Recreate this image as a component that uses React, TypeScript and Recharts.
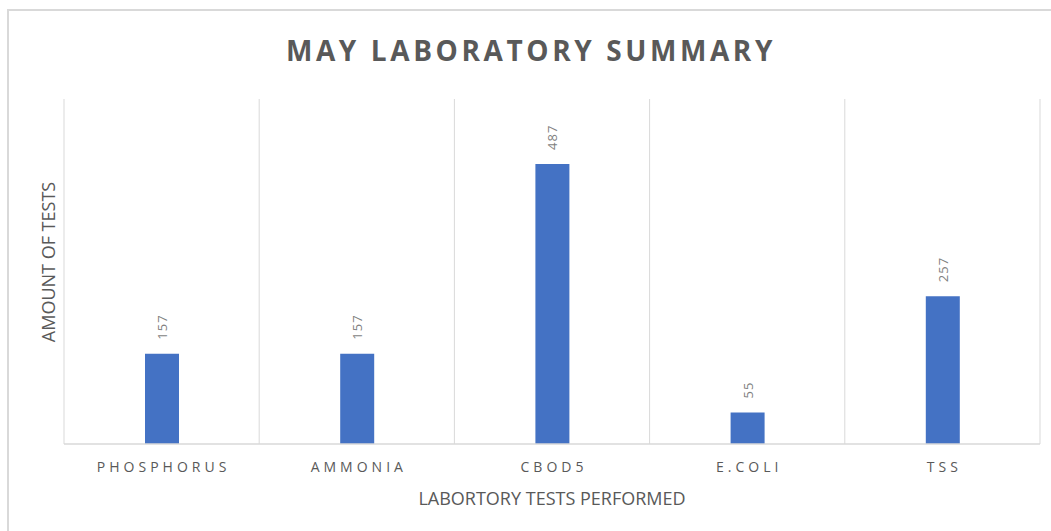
import React from 'react';
import { BarChart, Bar, XAxis, YAxis, CartesianGrid, LabelList } from 'recharts';

const categories = ['PHOSPHORUS', 'AMMONIA', 'CBOD5', 'E.COLI', 'TSS'];
const testCounts = [157, 157, 487, 55, 257];
const yDomain: [number, number] = [0, 600];

const data = categories.map((name, i) => ({ name, value: testCounts[i] }));

const W = 1051;
const H = 531;

const ValueLabel = (props: any) => {
  const { x, y, width, value } = props;
  const cx = x + width / 2;
  const ty = y - 14;
  return (
    <text
      x={cx}
      y={ty}
      transform={`rotate(-90, ${cx}, ${ty})`}
      textAnchor="start"
      dominantBaseline="central"
      fill="#7f7f7f"
      fontSize={13}
      letterSpacing={1}
      fontFamily="Open Sans"
    >
      {value}
    </text>
  );
};

const Tick = (props: any) => {
  const { x, y, payload } = props;
  return (
    <text
      x={x + 2}
      y={y + 20}
      textAnchor="middle"
      fill="#595959"
      fontSize={14}
      letterSpacing={4}
      fontFamily="Open Sans"
    >
      {payload.value}
    </text>
  );
};

export default function App() {
  return (
    <div style={{ position: 'absolute', left: 0, top: 0, width: W, height: H, background: '#fff', overflow: 'hidden' }}>
      <div
        style={{
          position: 'absolute',
          left: 7,
          top: 9,
          width: W,
          height: H,
          borderLeft: '2px solid #d9d9d9',
          borderTop: '2px solid #d9d9d9',
          boxSizing: 'border-box',
        }}
      />
      <BarChart
        width={W}
        height={H}
        data={data}
        margin={{ top: 99, right: 11, bottom: 57, left: 64 }}
        barSize={34}
      >
        <CartesianGrid
          horizontal={false}
          stroke="#d9d9d9"
          verticalCoordinatesGenerator={({ offset }: any) =>
            categories.map((_, i) => offset.left + (i * offset.width) / categories.length).concat([offset.left + offset.width])
          }
        />
        <XAxis
          dataKey="name"
          tickLine={false}
          axisLine={{ stroke: '#d9d9d9', strokeWidth: 1.5 }}
          tick={<Tick />}
          interval={0}
        />
        <YAxis hide domain={yDomain} />
        <Bar dataKey="value" fill="#4472c4" isAnimationActive={false}>
          <LabelList dataKey="value" content={<ValueLabel />} />
        </Bar>
      </BarChart>
      <div
        style={{
          position: 'absolute',
          left: 0,
          width: 1062,
          top: 31,
          textAlign: 'center',
          fontFamily: 'Open Sans',
          fontWeight: 700,
          fontSize: 28,
          letterSpacing: 3.6,
          color: '#595959',
          whiteSpace: 'nowrap',
        }}
      >
        MAY LABORATORY SUMMARY
      </div>
      <div
        style={{
          position: 'absolute',
          left: 64,
          width: 976,
          top: 486,
          textAlign: 'center',
          fontFamily: 'Open Sans',
          fontSize: 18,
          color: '#595959',
          whiteSpace: 'nowrap',
        }}
      >
        LABORTORY TESTS PERFORMED
      </div>
      <div
        style={{
          position: 'absolute',
          left: 48,
          top: 262,
          transform: 'translate(-50%, -50%) rotate(-90deg)',
          fontFamily: 'Open Sans',
          fontSize: 18,
          color: '#595959',
          whiteSpace: 'nowrap',
        }}
      >
        AMOUNT OF TESTS
      </div>
    </div>
  );
}
